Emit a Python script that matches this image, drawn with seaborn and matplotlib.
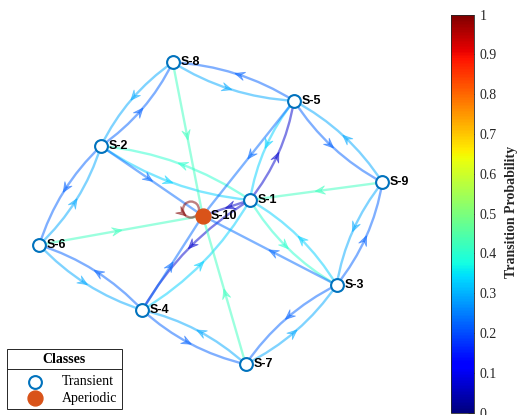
import numpy as np
import pandas as pd
import matplotlib
matplotlib.use("Agg")
import matplotlib.pyplot as plt
import seaborn as sns
from matplotlib.path import Path
from matplotlib.patches import PathPatch, Polygon, Rectangle, Circle
from matplotlib.colors import Normalize
from matplotlib.colorbar import ColorbarBase

# ---- Markov chain states and their graph layout ----
states = ["S-1", "S-2", "S-3", "S-4", "S-5", "S-6", "S-7", "S-8", "S-9", "S-10"]
layout_x = [0.235, -0.641, 0.745, -0.398, 0.494, -1.004, 0.210, -0.219, 1.014, -0.043]
layout_y = [0.088, 0.406, -0.412, -0.559, 0.672, -0.176, -0.878, 0.898, 0.192, -0.004]
state_class = ["Transient"] * 9 + ["Aperiodic"]

# ---- Transitions (from, to, probability) ----
edge_from = ["S-1", "S-1", "S-1", "S-1", "S-1",
             "S-2", "S-2", "S-2", "S-2",
             "S-3", "S-3", "S-3", "S-3",
             "S-4", "S-4", "S-4", "S-4",
             "S-5", "S-5", "S-5", "S-5",
             "S-6", "S-6", "S-6",
             "S-7", "S-7", "S-7",
             "S-8", "S-8", "S-8",
             "S-9", "S-9", "S-9",
             "S-10"]
edge_to = ["S-2", "S-3", "S-4", "S-5", "S-10",
           "S-1", "S-6", "S-8", "S-10",
           "S-1", "S-7", "S-9", "S-10",
           "S-1", "S-6", "S-7", "S-10",
           "S-1", "S-8", "S-9", "S-10",
           "S-2", "S-4", "S-10",
           "S-3", "S-4", "S-10",
           "S-2", "S-5", "S-10",
           "S-1", "S-3", "S-5",
           "S-10"]
edge_prob = [0.40, 0.40, 0.07, 0.07, 0.06,
             0.33, 0.22, 0.22, 0.23,
             0.33, 0.22, 0.22, 0.23,
             0.33, 0.22, 0.22, 0.23,
             0.33, 0.22, 0.22, 0.23,
             0.29, 0.29, 0.42,
             0.29, 0.29, 0.42,
             0.29, 0.29, 0.42,
             0.42, 0.29, 0.29,
             1.00]

class_names = ["Transient", "Aperiodic"]

nodes = pd.DataFrame({"state": states, "x": layout_x, "y": layout_y, "cls": state_class})
edges = pd.DataFrame({"src": edge_from, "dst": edge_to, "p": edge_prob})
pos = {s: np.array([x, y]) for s, x, y in zip(states, layout_x, layout_y)}

sns.set_theme(style="white")
plt.rcParams["font.family"] = ["Liberation Sans", "DejaVu Sans"]

W, H = 517, 415
fig = plt.figure(figsize=(W / 100, H / 100), dpi=100)

# main graph axes: 170 px per layout unit in both directions
PX = 170.0
x0, y0 = 210.0, 215.0
xlim = (-1.15, 1.25)
ylim = (-1.15, 1.2)
left_px = x0 + PX * xlim[0]
right_px = x0 + PX * xlim[1]
top_px = y0 - PX * ylim[1]
bot_px = y0 - PX * ylim[0]
ax = fig.add_axes([left_px / W, (H - bot_px) / H, (right_px - left_px) / W, (bot_px - top_px) / H])
ax.set_xlim(*xlim)
ax.set_ylim(*ylim)
ax.set_axis_off()

cmap = plt.get_cmap("jet")
alpha = 0.5
lw = 1.7
arrow_len = 10.0 / PX
arrow_w = 8.5 / PX
bend = 0.13

pairs = set(zip(edge_from, edge_to))


def arrowhead(tip, d, color):
    n = np.array([-d[1], d[0]])
    back = tip - d * arrow_len
    notch = tip - d * arrow_len * 0.6
    pts = [tip, back + n * arrow_w / 2, notch, back - n * arrow_w / 2]
    ax.add_patch(Polygon(pts, closed=True, facecolor=color, edgecolor=color,
                         lw=0.6, alpha=alpha, zorder=2))


for _, e in edges.iterrows():
    color = cmap(e.p)
    if e.src == e.dst:
        # self-loop drawn as a small circle beside the node
        c = pos[e.src] + np.array([-0.069, 0.036])
        r = 8.0 / PX
        ax.add_patch(Circle(c, r, fill=False, edgecolor=color, lw=lw, alpha=alpha, zorder=1))
        th = np.deg2rad(232)
        tip = c + r * np.array([np.cos(th), np.sin(th)])
        d = np.array([-np.sin(th), np.cos(th)])
        arrowhead(tip, d, color)
        continue
    p0, p2 = pos[e.src], pos[e.dst]
    chord = p2 - p0
    L = np.hypot(*chord)
    d = chord / L
    if (e.dst, e.src) in pairs:
        normal = np.array([d[1], -d[0]])
        ctrl = (p0 + p2) / 2 + normal * bend * L
    else:
        ctrl = (p0 + p2) / 2
    path = Path([p0, ctrl, p2], [Path.MOVETO, Path.CURVE3, Path.CURVE3])
    ax.add_patch(PathPatch(path, facecolor="none", edgecolor=color, lw=lw,
                           alpha=alpha, capstyle="round", zorder=1))
    mid = 0.25 * p0 + 0.5 * ctrl + 0.25 * p2
    arrowhead(mid + d * arrow_len * 0.1, d, color)

node_blue = (0.0, 0.447, 0.741)
node_orange = (0.850, 0.325, 0.098)
sns.scatterplot(data=nodes[nodes.cls == "Transient"], x="x", y="y", ax=ax,
                s=85, color="white", edgecolor=node_blue, linewidth=1.5,
                legend=False, zorder=3)
sns.scatterplot(data=nodes[nodes.cls == "Aperiodic"], x="x", y="y", ax=ax,
                s=115, color=node_orange, edgecolor=node_orange, linewidth=1.0,
                legend=False, zorder=3)

for s, x, y in zip(states, layout_x, layout_y):
    ax.text(x + 7.6 / PX, y, s, fontsize=9, fontweight="bold", color="black",
            ha="left", va="center", zorder=4)

# ---- Colorbar ----
serif = ["Liberation Serif", "DejaVu Serif"]
cax = fig.add_axes([451 / W, (H - 412.5) / H, 23 / W, 398 / H])
cb = ColorbarBase(cax, cmap=cmap, norm=Normalize(0, 1),
                  ticks=np.round(np.arange(0, 1.01, 0.1), 1))
cb.ax.set_yticklabels(["0"] + [f"{v:.1f}" for v in np.arange(0.1, 0.95, 0.1)] + ["1"],
                      family=serif, fontsize=10, color="0.15")
cb.ax.tick_params(direction="in", length=4, width=0.6, color="0.15", pad=4)
cb.outline.set_linewidth(0.6)
cb.outline.set_edgecolor("0.15")
fig.text(511 / W, (H - 212) / H, "Transition Probability", rotation=90,
         family=serif, fontsize=10, fontweight="bold", color="0.15",
         ha="center", va="center")

# ---- Class legend ----
lax = fig.add_axes([6 / W, (H - 410) / H, 117 / W, 62 / H])
lax.set_xlim(0, 117)
lax.set_ylim(62, 0)
lax.set_axis_off()
lax.add_patch(Rectangle((1, 1), 115, 59.5, fill=True, facecolor="white",
                        edgecolor="0.15", lw=0.7, clip_on=False))
lax.plot([1, 116], [21, 21], color="0.15", lw=0.7, clip_on=False)
lax.text(58, 11.5, "Classes", family=serif, fontsize=10, fontweight="bold",
         color="black", ha="center", va="center")
legend_y = [33.5, 50]
lax.scatter([29], [legend_y[0]], s=85, color="white", edgecolor=node_blue, linewidth=1.5)
lax.scatter([29], [legend_y[1]], s=115, color=node_orange, edgecolor=node_orange, linewidth=1.0)
for yy, name in zip(legend_y, class_names):
    lax.text(56, yy, name, family=serif, fontsize=10, color="black", ha="left", va="center")

fig.savefig("out.png", dpi=100)
